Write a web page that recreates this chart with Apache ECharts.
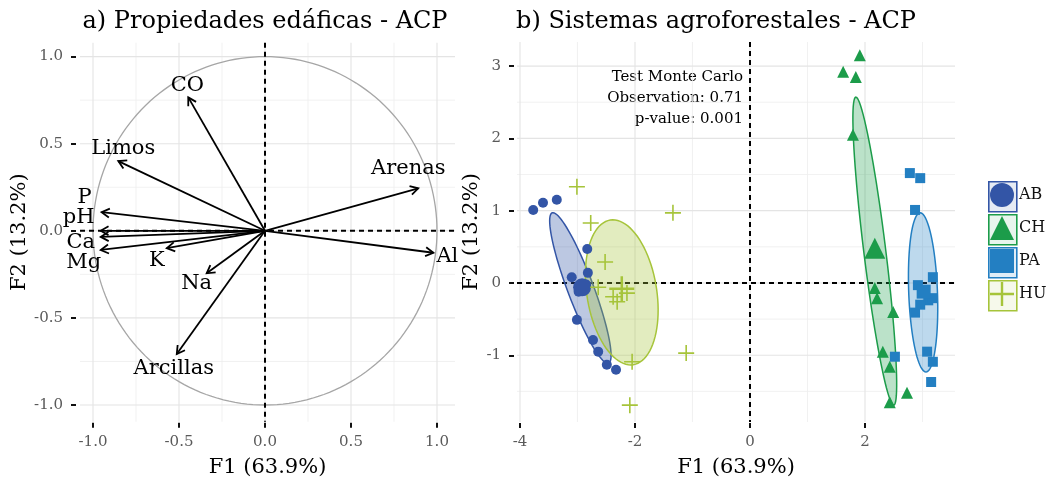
<!DOCTYPE html>
<html><head><meta charset="utf-8">
<script src="https://cdn.jsdelivr.net/npm/echarts@6/dist/echarts.min.js"></script>
<style>html,body{margin:0;padding:0;background:#fff}#c{width:1048px;height:481px}</style>
</head><body><div id="c"></div>
<script>
// ---------- Panel a) variables (correlation circle) ----------
const varNames = ['CO','Limos','Arenas','P','pH','Ca','Mg','K','Na','Arcillas','Al'];
const varF1 = [-0.446,-0.853,0.891,-0.95,-0.955,-0.955,-0.955,-0.571,-0.339,-0.513,0.979];
const varF2 = [0.766,0.400,0.244,0.107,0.0,-0.035,-0.11,-0.10,-0.244,-0.707,-0.126];
const varLabelOffsetPx = [[-1,-12],[5,-13],[-10,-20],[-17,-15],[-22,-13],[-20,6],[-17,13],[-10,12],[-10,10],[-3,15],[14,4]];

// ---------- Panel b) individuals ----------
const abF1 = [-3.77,-3.60,-3.36,-2.83,-2.82,-3.10,-2.98,-2.85,-3.01,-2.73,-2.64,-2.49,-2.33];
const abF2 = [1.01,1.11,1.15,0.47,0.14,0.08,-0.12,-0.02,-0.51,-0.79,-0.95,-1.13,-1.20];
const abMean = [-2.92,-0.06];
const chF1 = [1.91,1.62,1.84,1.79,2.17,2.21,2.49,2.31,2.43,2.73,2.43];
const chF2 = [3.15,2.92,2.85,2.05,-0.07,-0.21,-0.40,-0.95,-1.16,-1.52,-1.65];
const chMean = [2.17,0.48];
const paF1 = [2.78,2.96,2.87,3.18,2.92,3.10,3.18,2.87,2.96,3.08,3.18,2.52,3.15];
const paF2 = [1.52,1.45,1.01,0.08,-0.03,-0.24,-0.21,-0.41,-0.30,-0.95,-1.09,-1.02,-1.37];
const paMean = [3.02,-0.12];
const huF1 = [-3.01,-1.34,-2.77,-2.52,-2.64,-2.38,-2.14,-2.31,-2.05,-1.11,-2.09];
const huF2 = [1.33,0.97,0.83,0.29,-0.06,-0.19,-0.14,-0.26,-1.09,-0.97,-1.69];
const huMean = [-2.23,-0.08];
// confidence ellipses: centre (F1,F2), conjugate semi-axis vectors u and v (data units)
const abEllipse = [-2.95,-0.07,-0.49,1.04,0.212,0.063];
const chEllipse = [2.17,0.44,-0.33,2.13,0.19,0.018];
const paEllipse = [3.01,-0.13,-0.05,1.10,0.25,0.0];
const huEllipse = [-2.23,-0.13,-0.20,1.00,0.60,0.076];

// ---------- ticks / grid values ----------
const leftTicks = [-1,-0.5,0,0.5,1];
const leftMinor = [-0.75,-0.25,0.25,0.75];
const rightXTicks = [-4,-2,0,2];
const rightXMinor = [-3,-1,1,3];
const rightYTicks = [-1,0,1,2,3];
const rightYMinor = [-1.5,-0.5,0.5,1.5,2.5];
const groups = ['AB','CH','PA','HU'];
const monteCarlo = ['Test Monte Carlo','Observation: 0.71','p-value: 0.001'];

const FONT = '"DejaVu Serif", "Liberation Serif", serif';
const COL = {AB:'#3355a6', CH:'#1c9c4a', PA:'#237fc2', HU:'#a6c43a'};
const FILL = {AB:'rgba(53,87,167,0.33)', CH:'rgba(31,158,76,0.30)', PA:'rgba(37,128,195,0.30)', HU:'rgba(167,197,60,0.33)'};
const FRAMEFILL = {AB:'rgba(53,87,167,0.12)', CH:'rgba(31,158,76,0.10)', PA:'rgba(37,128,195,0.14)', HU:'rgba(167,197,60,0.10)'};
const PLUS = 'path://M9,0h2v20h-2z M0,9h20v2h-20z';

function gridData(xMaj, xMin, yMaj, yMin){
  const d = [];
  xMin.forEach(v=>d.push([0,v,0])); yMin.forEach(v=>d.push([1,v,0]));
  xMaj.forEach(v=>d.push([0,v,1])); yMaj.forEach(v=>d.push([1,v,1]));
  return d;
}
function gridRender(params, api){
  const cs = params.coordSys;
  const kind = api.value(0), v = api.value(1), major = api.value(2);
  const style = {stroke: major ? '#e4e4e4' : '#eeeeee', lineWidth: major ? 1.1 : 0.8};
  if (kind === 0){ const x = api.coord([v, 0])[0]; return {type:'line', shape:{x1:x,y1:cs.y,x2:x,y2:cs.y+cs.height}, style}; }
  const y = api.coord([0, v])[1];
  return {type:'line', shape:{x1:cs.x,y1:y,x2:cs.x+cs.width,y2:y}, style};
}
function zeroRender(params, api){
  const cs = params.coordSys;
  const kind = api.value(0);
  const style = {stroke:'#000', lineWidth:2, lineDash:[5,4]};
  if (kind === 0){ const x = api.coord([0,0])[0]; return {type:'line', shape:{x1:x,y1:cs.y,x2:x,y2:cs.y+cs.height}, style}; }
  const y = api.coord([0,0])[1];
  return {type:'line', shape:{x1:cs.x,y1:y,x2:cs.x+cs.width,y2:y}, style};
}
function ellipseRender(fill, stroke){
  return function(params, api){
    const cx=api.value(0), cy=api.value(1), ux=api.value(2), uy=api.value(3), vx=api.value(4), vy=api.value(5);
    const pts=[];
    for (let k=0;k<=90;k++){ const t=k/90*2*Math.PI; pts.push(api.coord([cx+Math.cos(t)*ux+Math.sin(t)*vx, cy+Math.cos(t)*uy+Math.sin(t)*vy])); }
    return {type:'polygon', shape:{points:pts}, style:{fill, stroke, lineWidth:1.5}};
  };
}
function circleRender(params, api){
  const pts=[];
  for (let k=0;k<=180;k++){ const t=k/180*2*Math.PI; pts.push(api.coord([api.value(2)*Math.cos(t), api.value(2)*Math.sin(t)])); }
  return {type:'polyline', shape:{points:pts}, style:{stroke:'#a6a6a6', lineWidth:1.3, fill:null}};
}
function arrowRender(params, api){
  const i = params.dataIndex;
  const o = api.coord([0,0]);
  const p = api.coord([api.value(0), api.value(1)]);
  const ang = Math.atan2(p[1]-o[1], p[0]-o[0]);
  const L = 9, a = Math.PI/6;
  const h1 = [p[0]-L*Math.cos(ang-a), p[1]-L*Math.sin(ang-a)];
  const h2 = [p[0]-L*Math.cos(ang+a), p[1]-L*Math.sin(ang+a)];
  const off = varLabelOffsetPx[i];
  return {type:'group', children:[
    {type:'line', shape:{x1:o[0],y1:o[1],x2:p[0],y2:p[1]}, style:{stroke:'#000', lineWidth:1.8}},
    {type:'polyline', shape:{points:[h1,p,h2]}, style:{stroke:'#000', lineWidth:1.8, fill:null}},
    {type:'text', x:p[0]+off[0], y:p[1]+off[1], style:{text:varNames[i], font:'21px '+FONT, fill:'#000', align:'center', verticalAlign:'middle'}}
  ]};
}
function zip(a,b){ return a.map((v,i)=>[v,b[i]]); }

function axisX(gi, min, max, ticks, fmt, offset){
  return {type:'value', gridIndex:gi, min, max, offset,
    name:'F1 (63.9%)', nameLocation:'middle', nameGap:34,
    nameTextStyle:{fontFamily:FONT, fontSize:21, color:'#000'},
    axisLine:{show:false, onZero:false}, splitLine:{show:false},
    axisTick:{show:true, customValues:ticks, length:5, lineStyle:{color:'#111', width:2}},
    axisLabel:{customValues:ticks, formatter:fmt, margin:12, fontFamily:FONT, fontSize:15, color:'#5a5a5a'}};
}
function axisY(gi, min, max, ticks, fmt, offset, gap){
  return {type:'value', gridIndex:gi, min, max, offset,
    name:'F2 (13.2%)', nameLocation:'middle', nameGap:gap,
    nameTextStyle:{fontFamily:FONT, fontSize:21, color:'#000'},
    axisLine:{show:false, onZero:false}, splitLine:{show:false},
    axisTick:{show:true, customValues:ticks, length:5, lineStyle:{color:'#111', width:2}},
    axisLabel:{customValues:ticks, formatter:fmt, margin:13, fontFamily:FONT, fontSize:15, color:'#5a5a5a'}};
}
const f1 = v => v.toFixed(1);
const f0 = v => String(v);

const legendFrames = groups.map((g,i)=>({type:'rect', left:988, top:181+i*33, z:-1,
  shape:{width:28, height:30}, style:{fill:FRAMEFILL[g], stroke:COL[g], lineWidth:1.6}}));

const option = {
  animation:false,
  backgroundColor:'#fff',
  grid:[
    {left:80, top:42.7, width:375, height:379, outerBoundsMode:'none'},
    {left:517, top:42, width:438, height:380, outerBoundsMode:'none'}
  ],
  xAxis:[
    axisX(0, -1.0756, 1.1047, leftTicks, f1, 1),
    axisX(1, -4.052, 3.565, rightXTicks, f0, 1)
  ],
  yAxis:[
    axisY(0, -1.0959, 1.0798, leftTicks, f1, 4, 44),
    axisY(1, -1.923, 3.333, rightYTicks, f0, 3, 24)
  ],
  legend:{orient:'vertical', left:990, top:183, padding:0, itemGap:9, itemWidth:24, itemHeight:24,
    textStyle:{fontFamily:FONT, fontSize:16, color:'#111'},
    data:[{name:'AB', icon:'circle'},{name:'CH', icon:'triangle'},{name:'PA', icon:'rect'},{name:'HU', icon:PLUS}]},
  graphic:[
    {type:'text', x:265, y:22, style:{text:'a) Propiedades edáficas - ACP', font:'24px '+FONT, fill:'#000', align:'center', verticalAlign:'middle'}},
    {type:'text', x:716, y:22, style:{text:'b) Sistemas agroforestales - ACP', font:'24px '+FONT, fill:'#000', align:'center', verticalAlign:'middle'}},
    {type:'text', x:743, y:67, style:{text:monteCarlo.join('\n'), font:'15px '+FONT, lineHeight:21, fill:'#000', align:'right', verticalAlign:'top'}},
    ...legendFrames
  ],
  series:[
    {type:'custom', name:'gridA', xAxisIndex:0, yAxisIndex:0, z:0, silent:true, renderItem:gridRender, data:gridData(leftTicks,leftMinor,leftTicks,leftMinor)},
    {type:'custom', name:'gridB', xAxisIndex:1, yAxisIndex:1, z:0, silent:true, renderItem:gridRender, data:gridData(rightXTicks,rightXMinor,rightYTicks,rightYMinor)},
    {type:'custom', name:'circle', xAxisIndex:0, yAxisIndex:0, z:1, silent:true, renderItem:circleRender, data:[[0,0,1]]},
    {type:'custom', name:'zeroA', xAxisIndex:0, yAxisIndex:0, z:2, silent:true, renderItem:zeroRender, data:[[0],[1]]},
    {type:'custom', name:'zeroB', xAxisIndex:1, yAxisIndex:1, z:2, silent:true, renderItem:zeroRender, data:[[0],[1]]},
    {type:'custom', name:'variables', xAxisIndex:0, yAxisIndex:0, z:3, renderItem:arrowRender, data:zip(varF1,varF2)},
    {type:'custom', name:'ellAB', xAxisIndex:1, yAxisIndex:1, z:3, renderItem:ellipseRender(FILL.AB, COL.AB), data:[abEllipse]},
    {type:'custom', name:'ellHU', xAxisIndex:1, yAxisIndex:1, z:3, renderItem:ellipseRender(FILL.HU, COL.HU), data:[huEllipse]},
    {type:'custom', name:'ellCH', xAxisIndex:1, yAxisIndex:1, z:3, renderItem:ellipseRender(FILL.CH, COL.CH), data:[chEllipse]},
    {type:'custom', name:'ellPA', xAxisIndex:1, yAxisIndex:1, z:3, renderItem:ellipseRender(FILL.PA, COL.PA), data:[paEllipse]},
    {type:'scatter', name:'AB', xAxisIndex:1, yAxisIndex:1, z:4, symbol:'circle', symbolSize:10, itemStyle:{color:COL.AB, opacity:1}, data:zip(abF1,abF2)},
    {type:'scatter', name:'AB', xAxisIndex:1, yAxisIndex:1, z:4, symbol:'circle', symbolSize:18, itemStyle:{color:COL.AB, opacity:1}, data:[abMean]},
    {type:'scatter', name:'CH', xAxisIndex:1, yAxisIndex:1, z:4, symbol:'triangle', symbolSize:12, itemStyle:{color:COL.CH, opacity:1}, data:zip(chF1,chF2)},
    {type:'scatter', name:'CH', xAxisIndex:1, yAxisIndex:1, z:4, symbol:'triangle', symbolSize:21, itemStyle:{color:COL.CH, opacity:1}, data:[chMean]},
    {type:'scatter', name:'PA', xAxisIndex:1, yAxisIndex:1, z:4, symbol:'rect', symbolSize:10, itemStyle:{color:COL.PA, opacity:1}, data:zip(paF1,paF2)},
    {type:'scatter', name:'PA', xAxisIndex:1, yAxisIndex:1, z:4, symbol:'rect', symbolSize:14, itemStyle:{color:COL.PA, opacity:1}, data:[paMean]},
    {type:'scatter', name:'HU', xAxisIndex:1, yAxisIndex:1, z:4, symbol:PLUS, symbolSize:16, itemStyle:{color:COL.HU, opacity:1}, data:zip(huF1,huF2)},
    {type:'scatter', name:'HU', xAxisIndex:1, yAxisIndex:1, z:4, symbol:PLUS, symbolSize:25, itemStyle:{color:COL.HU, opacity:1}, data:[huMean]}
  ]
};
const chart = echarts.init(document.getElementById('c'), null, {renderer:'canvas'});
chart.setOption(option);
</script></body></html>
